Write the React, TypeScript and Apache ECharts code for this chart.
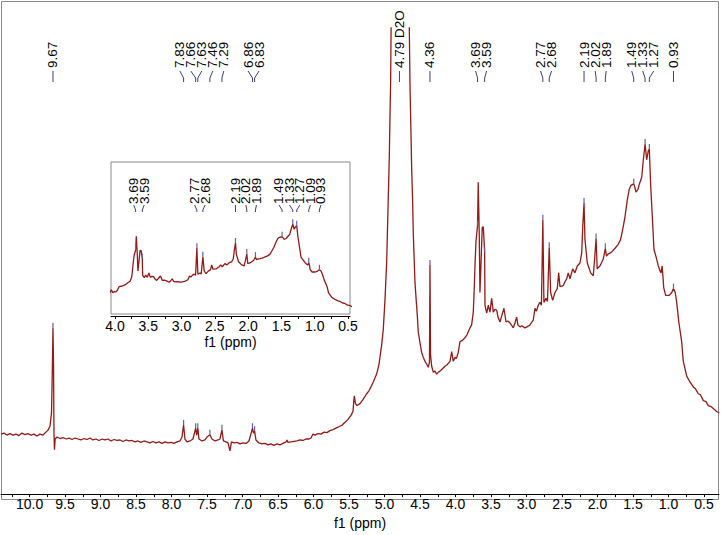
import React, { useEffect, useRef } from "react";
import * as echarts from "echarts";

// ---- spectrum (chemical shift in ppm, intensity in arbitrary units) ----
const shift = [
  10.402, 10.36, 10.318, 10.276, 10.233, 10.191, 10.149, 10.107, 10.064, 10.022,
  9.98, 9.938, 9.895, 9.853, 9.811, 9.769, 9.74, 9.712, 9.691, 9.68, 9.67, 9.662,
  9.656, 9.649, 9.639, 9.614, 9.571, 9.529, 9.487, 9.445, 9.402, 9.36, 9.318, 9.276,
  9.233, 9.191, 9.149, 9.107, 9.064, 9.022, 8.98, 8.938, 8.895, 8.853, 8.811, 8.769,
  8.726, 8.684, 8.642, 8.6, 8.557, 8.515, 8.473, 8.431, 8.388, 8.346, 8.304, 8.262,
  8.219, 8.177, 8.135, 8.093, 8.05, 8.008, 7.966, 7.924, 7.881, 7.853, 7.83, 7.811,
  7.782, 7.74, 7.698, 7.66, 7.646, 7.63, 7.614, 7.571, 7.529, 7.501, 7.46, 7.431,
  7.388, 7.346, 7.318, 7.29, 7.269, 7.233, 7.205, 7.177, 7.156, 7.121, 7.078, 7.036,
  6.994, 6.952, 6.909, 6.86, 6.845, 6.83, 6.811, 6.769, 6.726, 6.684, 6.642, 6.6,
  6.557, 6.515, 6.473, 6.431, 6.388, 6.374, 6.36, 6.318, 6.276, 6.233, 6.191, 6.149,
  6.107, 6.064, 6.036, 6.008, 5.98, 5.938, 5.895, 5.853, 5.811, 5.769, 5.726, 5.684,
  5.642, 5.6, 5.557, 5.515, 5.473, 5.445, 5.426, 5.409, 5.388, 5.346, 5.304, 5.252,
  5.219, 5.191, 5.159, 5.111, 5.078, 5.04, 5.018, 4.994, 4.97, 4.947, 4.933, 4.923,
  4.914, 4.909, 4.906, 4.79, 4.652, 4.649, 4.642, 4.628, 4.618, 4.604, 4.595, 4.571,
  4.539, 4.525, 4.501, 4.477, 4.454, 4.43, 4.406, 4.384, 4.367, 4.36, 4.352, 4.336,
  4.314, 4.29, 4.266, 4.24, 4.219, 4.191, 4.149, 4.12, 4.078, 4.054, 4.032, 4.008,
  3.987, 3.962, 3.937, 3.909, 3.867, 3.839, 3.797, 3.773, 3.75, 3.74, 3.726, 3.712,
  3.69, 3.68, 3.666, 3.656, 3.642, 3.624, 3.609, 3.59, 3.585, 3.561, 3.539, 3.515,
  3.491, 3.468, 3.444, 3.42, 3.402, 3.374, 3.346, 3.318, 3.289, 3.261, 3.233, 3.186,
  3.163, 3.139, 3.121, 3.093, 3.064, 3.022, 2.994, 2.952, 2.905, 2.881, 2.86, 2.835,
  2.811, 2.79, 2.77, 2.755, 2.726, 2.705, 2.68, 2.66, 2.632, 2.599, 2.567, 2.547,
  2.529, 2.482, 2.458, 2.434, 2.412, 2.388, 2.35, 2.318, 2.285, 2.247, 2.223, 2.208,
  2.19, 2.177, 2.144, 2.12, 2.097, 2.06, 2.043, 2.02, 2.005, 1.994, 1.966, 1.919,
  1.89, 1.875, 1.853, 1.825, 1.789, 1.754, 1.708, 1.674, 1.646, 1.613, 1.581, 1.553,
  1.529, 1.505, 1.49, 1.475, 1.458, 1.43, 1.412, 1.378, 1.356, 1.33, 1.308, 1.285,
  1.27, 1.252, 1.223, 1.205, 1.167, 1.144, 1.12, 1.105, 1.09, 1.078, 1.068, 1.04,
  0.99, 0.955, 0.93, 0.905, 0.885, 0.855, 0.815, 0.792, 0.744, 0.698, 0.651, 0.62,
  0.581, 0.55, 0.51, 0.472, 0.44, 0.402, 0.37, 0.322, 0.285,
];
const intensity = [
  -1, 0, -2, -0.5, -2, -1, -2.5, 0, -1.5, -0.5,
  -2, -1, -3, -1, -2, 1, 3, 7, 20, 60, 107, 70,
  0, -17, -6, -4, -5.5, -4.5, -6, -5, -6.5, -5, -6, -7,
  -5.5, -6.5, -5, -7, -6, -7.5, -6, -7, -6, -8, -6.5, -7.5,
  -7, -8.5, -7, -8, -7.5, -9, -8, -9.5, -8, -9, -10, -8.5,
  -10, -9, -10.5, -9, -10, -9.5, -10.5, -9, -8, -4, 8.3, -6,
  -9, -8, -6, 5, -2, 5, -6, -8, -7, -4, -1.7, -6,
  -8, -7, -6, 3.3, -8, -9, -10, -18, -9, -10, -9.5, -11,
  -10, -10.5, -8, 5, 0, 2, -7, -10, -11, -10.5, -12, -11,
  -12.5, -11, -12, -10.5, -9, -7, -9.5, -9, -8.5, -8, -7, -7.5,
  -6, -6, -5, -1, -2, -0.5, -1, 1, 0.5, 2.5, 3.5, 5,
  6.5, 8, 11, 14, 18, 22, 38, 30, 28, 30, 34, 40,
  43, 47, 52, 60, 70, 90, 105, 135, 173, 240, 280, 323,
  357, 400, 420, 1940, 420, 400, 357, 307, 270, 235, 203, 153,
  120, 103, 92, 82, 77, 73, 70, 67, 72, 171, 80, 68,
  62, 63, 60, 62, 63, 65, 68, 69.5, 73, 83, 73, 77,
  76, 82, 93, 94, 97, 100, 107, 110, 123, 140, 170, 195,
  211, 255, 203, 143, 170, 209, 210, 184, 130, 122, 130, 123,
  137, 123, 126, 125, 118, 113, 120, 127, 113, 114, 112, 107,
  112, 118, 110, 108, 109, 107, 108, 110, 115, 127, 124, 130,
  133, 130, 217, 133, 137, 134, 189, 143, 135, 143, 147, 163,
  149, 150, 154, 157, 163, 157, 167, 163, 170, 173, 183, 210,
  234, 197, 173, 168, 163, 160, 175, 198, 167, 168, 170, 177,
  188, 180, 182, 183, 185, 188, 192, 197, 207, 220, 237, 248,
  252, 253, 253.5, 250, 245, 248, 253, 260, 277, 294, 278, 287,
  289, 253, 213, 187, 177, 170, 165, 163, 170, 159, 148, 140,
  140, 143, 147, 143, 133, 113, 93, 73, 58, 52, 47, 45,
  40, 39, 33, 32, 28, 27, 25, 22, 20.5,
];

// ---- picked peaks (main spectrum) ----
const peakShift = [9.67, 7.83, 7.66, 7.63, 7.46, 7.29, 6.86, 6.83, 4.79, 4.36, 3.69, 3.59, 2.77, 2.68, 2.19, 2.02, 1.89, 1.49, 1.33, 1.27, 0.93];
const peakText = ["9.67", "7.83", "7.66", "7.63", "7.46", "7.29", "6.86", "6.83", "4.79 D2O", "4.36", "3.69", "3.59", "2.77", "2.68", "2.19", "2.02", "1.89", "1.49", "1.33", "1.27", "0.93"];
const peakHeight: (number | null)[] = [107, 8.3, 5, 5, -1.7, 3.3, 5, 2, null, 171, 211, 184, 217, 189, 234, 198, 188, 253.5, 294, 289, 147];

// ---- picked peaks (inset) ----
const insetPeakShift = [3.69, 3.59, 2.77, 2.68, 2.19, 2.02, 1.89, 1.49, 1.33, 1.27, 1.09, 0.93];
const insetPeakText = ["3.69", "3.59", "2.77", "2.68", "2.19", "2.02", "1.89", "1.49", "1.33", "1.27", "1.09", "0.93"];
const insetPeakHeight = [211, 184, 217, 189, 234, 198, 188, 253.5, 294, 289, 170, 147];

// ---- axis ticks ----
const mainTicks = [0.5, 0.75, 1.0, 1.25, 1.5, 1.75, 2.0, 2.25, 2.5, 2.75, 3.0, 3.25, 3.5, 3.75, 4.0, 4.25, 4.5, 4.75, 5.0, 5.25, 5.5, 5.75, 6.0, 6.25, 6.5, 6.75, 7.0, 7.25, 7.5, 7.75, 8.0, 8.25, 8.5, 8.75, 9.0, 9.25, 9.5, 9.75, 10.0, 10.25];
const mainTickLabels = [0.5, 1.0, 1.5, 2.0, 2.5, 3.0, 3.5, 4.0, 4.5, 5.0, 5.5, 6.0, 6.5, 7.0, 7.5, 8.0, 8.5, 9.0, 9.5, 10.0];
const insetTicks = [0.5, 0.75, 1.0, 1.25, 1.5, 1.75, 2.0, 2.25, 2.5, 2.75, 3.0, 3.25, 3.5, 3.75, 4.0];
const insetTickLabels = [0.5, 1.0, 1.5, 2.0, 2.5, 3.0, 3.5, 4.0];

const FONT = '"Liberation Sans", Arial, sans-serif';
const FS = 14;
const LABEL_FS = 13.5;
const LINE_COLOR = "#931a16";
const LABEL_LINE = "#3e3e80";
const MARK_COLOR = "#6060b0";
const FRAME = "#8a8a8a";

function spread(xs: number[], gap: number): number[] {
  const order = xs.map((_, i) => i).sort((a, b) => xs[a] - xs[b]);
  let blocks = order.map((i) => ({ members: [i], sum: xs[i] }));
  const pos = (b: { members: number[]; sum: number }) => {
    const n = b.members.length;
    const c = b.sum / n;
    return b.members.map((_, k) => c + (k - (n - 1) / 2) * gap);
  };
  let merged = true;
  while (merged) {
    merged = false;
    for (let k = 0; k < blocks.length - 1; k++) {
      const a = pos(blocks[k]);
      const b = pos(blocks[k + 1]);
      if (b[0] - a[a.length - 1] < gap - 1e-6) {
        blocks[k] = {
          members: [...blocks[k].members, ...blocks[k + 1].members],
          sum: blocks[k].sum + blocks[k + 1].sum,
        };
        blocks.splice(k + 1, 1);
        merged = true;
        break;
      }
    }
  }
  const out: number[] = new Array(xs.length);
  blocks.forEach((b) => {
    const p = pos(b);
    b.members.forEach((m, k) => (out[m] = p[k]));
  });
  return out;
}

function makeLabelRenderer(
  shifts: number[],
  texts: string[],
  heights: (number | null)[],
  textBottom: number,
  lineTop: number,
  lineBend: number,
  lineBottom: number,
  gap: number
) {
  return (params: any, api: any) => {
    const i = params.dataIndex;
    const xs = shifts.map((s) => api.coord([s, 0])[0]);
    const lx = spread(xs, gap);
    const labelX = lx[i];
    const peakX = xs[i];
    const children: any[] = [
      {
        type: "text",
        x: labelX,
        y: textBottom,
        rotation: Math.PI / 2,
        style: {
          text: texts[i],
          fill: "#000",
          font: `${LABEL_FS}px ${FONT}`,
          align: "left",
          verticalAlign: "middle",
        },
      },
      {
        type: "polyline",
        shape: { points: [[labelX, lineTop], [peakX, lineBend], [peakX, lineBottom]] },
        style: { stroke: LABEL_LINE, lineWidth: 1, fill: null },
      },
    ];
    const h = heights[i];
    if (h !== null && h !== undefined) {
      const py = api.coord([shifts[i], h])[1];
      children.push({
        type: "line",
        shape: { x1: peakX, y1: py - 5, x2: peakX, y2: py },
        style: { stroke: MARK_COLOR, lineWidth: 1.2 },
      });
    }
    return { type: "group", children };
  };
}

export default function App() {
  const ref = useRef<HTMLDivElement>(null);
  useEffect(() => {
    if (!ref.current) return;
    const chart = echarts.init(ref.current, undefined, { renderer: "svg" });
    const spectrum = shift.map((s, i) => [s, intensity[i]]);

    const axisCommon = (min: number, max: number, ticks: number[], labels: number[], nameGap: number) => ({
      type: "value",
      inverse: true,
      min,
      max,
      offset: 2,
      splitLine: { show: false },
      axisLine: { show: true, onZero: false, lineStyle: { color: "#000", width: 1 } },
      axisTick: { show: true, inside: false, length: 3, customValues: ticks, lineStyle: { color: "#000" } },
      axisLabel: {
        show: true,
        customValues: labels,
        formatter: (v: number) => v.toFixed(1),
        color: "#000",
        fontSize: FS,
        fontFamily: FONT,
        margin: 3,
      },
      name: "f1 (ppm)",
      nameLocation: "middle",
      nameGap,
      nameTextStyle: { color: "#000", fontSize: FS, fontFamily: FONT },
    });

    chart.setOption({
      animation: false,
      backgroundColor: "#fff",
      grid: [
        { left: 1, right: 2, top: 28, bottom: 35, show: false },
        {
          left: 111,
          top: 162,
          width: 239,
          height: 152,
          show: true,
          backgroundColor: "#fff",
          borderColor: FRAME,
          borderWidth: 1,
        },
      ],
      xAxis: [
        { ...axisCommon(0.289, 10.402, mainTicks, mainTickLabels, 13), gridIndex: 0 },
        { ...axisCommon(0.47, 4.06, insetTicks, insetTickLabels, 19), gridIndex: 1 },
      ],
      yAxis: [
        { type: "value", gridIndex: 0, min: -60, max: 412, show: false },
        { type: "value", gridIndex: 1, min: 4.5, max: 495, show: false },
      ],
      graphic: [
        {
          type: "rect",
          shape: { x: 1.5, y: 1.5, width: 717, height: 498 },
          style: { stroke: FRAME, lineWidth: 1, fill: null },
          silent: true,
          z: -1,
        },
      ],
      series: [
        {
          type: "line",
          xAxisIndex: 0,
          yAxisIndex: 0,
          data: spectrum,
          showSymbol: false,
          symbol: "none",
          clip: true,
          lineStyle: { color: LINE_COLOR, width: 1.3 },
          z: 2,
        },
        {
          type: "line",
          xAxisIndex: 1,
          yAxisIndex: 1,
          data: spectrum,
          showSymbol: false,
          symbol: "none",
          clip: true,
          lineStyle: { color: LINE_COLOR, width: 1.3 },
          z: 4,
        },
        {
          type: "custom",
          xAxisIndex: 0,
          yAxisIndex: 0,
          clip: false,
          silent: true,
          z: 5,
          data: peakShift.map((s, i) => [s, peakHeight[i] ?? 0]),
          renderItem: makeLabelRenderer(peakShift, peakText, peakHeight, 68, 71, 78, 82, 11),
        },
        {
          type: "custom",
          xAxisIndex: 1,
          yAxisIndex: 1,
          clip: false,
          silent: true,
          z: 5,
          data: insetPeakShift.map((s, i) => [s, insetPeakHeight[i]]),
          renderItem: makeLabelRenderer(insetPeakShift, insetPeakText, insetPeakHeight, 204, 205, 210, 212, 10.5),
        },
      ],
    });
    return () => chart.dispose();
  }, []);
  return (
    <div
      ref={ref}
      style={{ position: "fixed", left: 0, top: 0, width: 721, height: 535, background: "#fff" }}
    />
  );
}
